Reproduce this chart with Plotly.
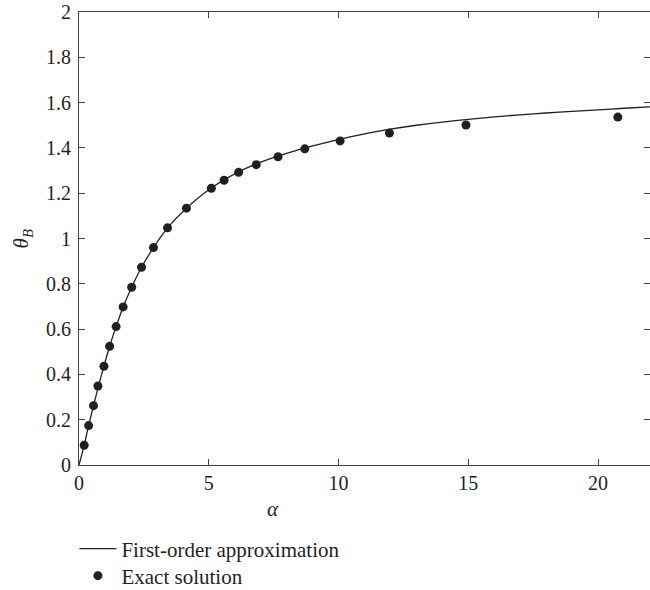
import plotly.graph_objects as go

# Exact solution points (alpha, theta_B)
exact_alpha = [0.20, 0.37, 0.56, 0.73, 0.96, 1.18, 1.43, 1.70, 2.03, 2.41, 2.87, 3.41,
               4.14, 5.10, 5.59, 6.15, 6.83, 7.67, 8.70, 10.06, 11.96, 14.91, 20.76]
exact_theta = [0.087, 0.174, 0.262, 0.349, 0.436, 0.524, 0.611, 0.698, 0.785, 0.873, 0.960, 1.047,
               1.134, 1.222, 1.257, 1.292, 1.326, 1.361, 1.396, 1.431, 1.466, 1.501, 1.536]

# First-order approximation curve samples
approx_alpha = [0, 0.2, 0.37, 0.56, 0.75, 0.96, 1.18, 1.43, 1.70, 2.03, 2.41, 2.87, 3.41,
                4.14, 5.1, 6.15, 7.0, 8.0, 9.0, 10.0, 11.0, 12.0, 13.0, 14.0, 15.0,
                16.0, 17.0, 18.0, 19.0, 20.0, 21.0, 22.0]
approx_theta = [0, 0.087, 0.174, 0.262, 0.349, 0.436, 0.524, 0.611, 0.698, 0.785, 0.873, 0.960, 1.047,
                1.134, 1.223, 1.294, 1.337, 1.376, 1.409, 1.437, 1.462, 1.483, 1.500, 1.514, 1.526,
                1.537, 1.546, 1.554, 1.561, 1.568, 1.575, 1.581]

FONT = "Liberation Serif"
INK = "#231f20"

fig = go.Figure()
fig.add_trace(go.Scatter(x=approx_alpha, y=approx_theta, mode="lines",
                         line=dict(color=INK, width=1.3, shape="spline", smoothing=0.6),
                         name="First-order approximation", legend="legend"))
fig.add_trace(go.Scatter(x=exact_alpha, y=exact_theta, mode="markers",
                         marker=dict(color=INK, size=9),
                         name="Exact solution", legend="legend2"))

axis_common = dict(showgrid=False, zeroline=False, showline=True, linecolor="#444",
                   linewidth=1.2, ticks="inside", ticklen=6, tickcolor="#444",
                   tickwidth=1.2, mirror="ticks",
                   tickfont=dict(family=FONT, size=20, color=INK))

legend_common = dict(xanchor="left", yanchor="middle",
                     font=dict(family=FONT, size=21, color=INK),
                     bgcolor="rgba(0,0,0,0)", itemwidth=37)

fig.update_layout(
    width=650, height=590,
    margin=dict(l=79, r=0, t=12, b=125, autoexpand=False),
    paper_bgcolor="white", plot_bgcolor="white",
    font=dict(family=FONT, color=INK),
    xaxis=dict(range=[0, 22], tickvals=[0, 5, 10, 15, 20], **axis_common),
    yaxis=dict(range=[0, 2], dtick=0.2, tick0=0, ticklabelstandoff=3, **axis_common),
    showlegend=True,
    legend=dict(x=-0.008, y=-0.1854, **legend_common),
    legend2=dict(x=-0.008, y=-0.245, **legend_common),
    annotations=[
        dict(text="<i>α</i>", xref="paper", yref="paper", x=0.34, y=-0.097,
             showarrow=False, font=dict(family=FONT, size=21, color=INK),
             xanchor="center", yanchor="middle"),
        dict(text="<i>θ</i><sub><i>B</i></sub>", xref="paper", yref="paper", x=-0.10, y=0.5,
             showarrow=False, textangle=-90, font=dict(family=FONT, size=21, color=INK),
             xanchor="center", yanchor="middle"),
    ],
)

fig.write_html("out.html")
